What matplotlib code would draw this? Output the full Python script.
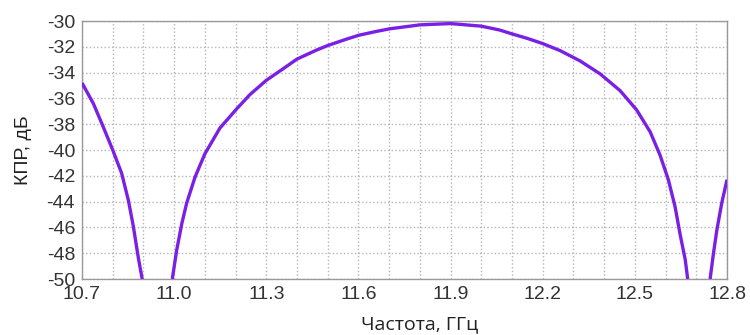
import matplotlib
matplotlib.use('Agg')
import matplotlib.pyplot as plt
import numpy as np

plt.rcParams['axes.unicode_minus'] = False

# Branch data (frequency GHz, KPR dB)
f_left = [10.700, 10.737, 10.769, 10.800, 10.829, 10.851, 10.867, 10.883, 10.896]
kpr_left = [-34.8, -36.4, -38.2, -40.0, -41.8, -43.9, -45.9, -48.3, -50.0]

f_main = [10.994, 11.008, 11.025, 11.041, 11.068, 11.100, 11.149, 11.204, 11.247,
          11.300, 11.355, 11.400, 11.464, 11.500, 11.562, 11.602, 11.660, 11.703,
          11.768, 11.800, 11.900, 12.000, 12.060, 12.100, 12.150, 12.200, 12.257,
          12.322, 12.387, 12.452, 12.506, 12.550, 12.582, 12.609, 12.631, 12.647,
          12.664, 12.672]
kpr_main = [-50.0, -47.8, -45.7, -44.1, -42.1, -40.3, -38.3, -36.8, -35.7,
            -34.6, -33.7, -32.95, -32.25, -31.9, -31.4, -31.1, -30.8, -30.6,
            -30.4, -30.3, -30.2, -30.4, -30.7, -31.0, -31.35, -31.75, -32.3,
            -33.1, -34.1, -35.4, -36.9, -38.6, -40.4, -42.3, -44.4, -46.5,
            -48.5, -50.0]

f_right = [12.745, 12.756, 12.767, 12.783, 12.800]
kpr_right = [-50.0, -48.0, -46.2, -44.1, -42.3]

x_ticks = [10.7, 11.0, 11.3, 11.6, 11.9, 12.2, 12.5, 12.8]
y_ticks = list(range(-50, -29, 2))

line_color = '#7a1fe6'

fig = plt.figure(figsize=(7.5, 3.35), dpi=100)
ax = fig.add_axes([82 / 750, 56 / 335, 645 / 750, 258 / 335])

for f, k in [(f_left, kpr_left), (f_main, kpr_main), (f_right, kpr_right)]:
    ax.plot(f, k, color=line_color, linewidth=2.4, solid_capstyle='butt',
            solid_joinstyle='round', zorder=3)

ax.set_xlim(10.7, 12.8)
ax.set_ylim(-50, -30)
ax.set_xticks(x_ticks)
ax.set_xticklabels([f'{t:.1f}' for t in x_ticks])
ax.set_xticks(np.round(np.arange(10.7, 12.81, 0.1), 1), minor=True)
ax.set_yticks(y_ticks)
ax.grid(True, which='both', color='#b5b5b5', linestyle=':', linewidth=1.0)
ax.tick_params(which='both', length=0, labelsize=14, colors='#333333', pad=5)
for lab in ax.get_xticklabels() + ax.get_yticklabels():
    lab.set_family('Liberation Sans')
for s in ax.spines.values():
    s.set_color('#999999')
    s.set_linewidth(1.0)

fig.text(23 / 750, 1 - 150 / 335, 'КПР, дБ', rotation=90, ha='center', va='center',
         fontsize=14, family='Liberation Sans', color='#222222')
fig.text(420 / 750, 1 - 324 / 335, 'Частота, ГГц', ha='center', va='center',
         fontsize=14, family='Open Sans', color='#222222')

fig.savefig('out.png', dpi=100)
